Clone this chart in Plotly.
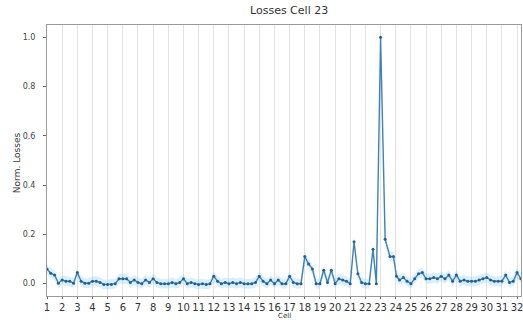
import plotly.graph_objects as go

# Normalised losses sampled along the cells (fractional cell positions)
cell_pos = [
    1.0, 1.25, 1.5, 1.75, 2.0, 2.25, 2.5, 2.75, 3.0, 3.25, 3.5, 3.75,
    4.0, 4.25, 4.5, 4.75, 5.0, 5.25, 5.5, 5.75, 6.0, 6.25, 6.5, 6.75,
    7.0, 7.25, 7.5, 7.75, 8.0, 8.25, 8.5, 8.75, 9.0, 9.25, 9.5, 9.75,
    10.0, 10.25, 10.5, 10.75, 11.0, 11.25, 11.5, 11.75, 12.0, 12.25, 12.5, 12.75,
    13.0, 13.25, 13.5, 13.75, 14.0, 14.25, 14.5, 14.75, 15.0, 15.25, 15.5, 15.75,
    16.0, 16.25, 16.5, 16.75, 17.0, 17.25, 17.5, 17.75, 18.0, 18.25, 18.5, 18.75,
    19.0, 19.25, 19.5, 19.75, 20.0, 20.25, 20.5, 20.75, 21.0, 21.25, 21.5, 21.75,
    22.0, 22.25, 22.5, 22.72, 23.0, 23.3, 23.62, 23.85, 24.05, 24.25, 24.5, 24.75,
    25.0, 25.25, 25.5, 25.75, 26.0, 26.25, 26.5, 26.75, 27.0, 27.25, 27.5, 27.75,
    28.0, 28.25, 28.5, 28.75, 29.0, 29.25, 29.5, 29.75, 30.0, 30.25, 30.5, 30.75,
    31.0, 31.25, 31.5, 31.75, 32.0, 32.25,
]
norm_losses = [
    0.060, 0.042, 0.035, 0.002, 0.015, 0.010, 0.010, 0.002, 0.045, 0.010, 0.002, 0.002,
    0.010, 0.010, 0.005, -0.003, -0.003, -0.003, 0.000, 0.020, 0.020, 0.020, 0.005, 0.015,
    0.005, 0.000, 0.015, 0.005, 0.020, 0.005, 0.000, 0.000, 0.000, 0.005, 0.000, 0.005,
    0.020, 0.000, 0.005, 0.000, -0.003, 0.000, -0.003, 0.000, 0.030, 0.010, 0.000, 0.005,
    0.000, 0.005, 0.000, 0.005, 0.000, 0.000, 0.000, 0.005, 0.030, 0.010, 0.000, 0.015,
    0.000, 0.015, 0.000, 0.000, 0.030, 0.005, 0.000, 0.000, 0.110, 0.080, 0.060, 0.000,
    0.000, 0.055, 0.005, 0.055, 0.000, 0.020, 0.015, 0.010, 0.000, 0.170, 0.040, 0.005,
    0.000, 0.000, 0.140, 0.000, 1.000, 0.180, 0.110, 0.110, 0.030, 0.015, 0.025, 0.010,
    0.000, 0.020, 0.040, 0.045, 0.020, 0.020, 0.025, 0.020, 0.030, 0.020, 0.035, 0.010,
    0.035, 0.010, 0.015, 0.010, 0.010, 0.010, 0.015, 0.020, 0.025, 0.015, 0.010, 0.010,
    0.010, 0.035, 0.005, 0.010, 0.045, 0.020,
]

x_ticks = list(range(1, 33))
band = 0.02

line_color = "#3f83b8"
font = "DejaVu Sans"

fig = go.Figure()

# shaded spread around the loss curve
fig.add_trace(go.Scatter(
    x=cell_pos, y=[v - band for v in norm_losses], mode="lines",
    line=dict(width=0), hoverinfo="skip", showlegend=False,
))
fig.add_trace(go.Scatter(
    x=cell_pos, y=[v + band for v in norm_losses], mode="lines",
    line=dict(width=0), fill="tonexty", fillcolor="rgba(150,210,250,0.35)",
    hoverinfo="skip", showlegend=False,
))
fig.add_trace(go.Scatter(
    x=cell_pos, y=norm_losses, mode="lines+markers",
    line=dict(color=line_color, width=1.4),
    marker=dict(color="#2a5f8a", size=3),
    showlegend=False,
))

plot_h = 320 - 25 - 24

fig.update_layout(
    width=523, height=320,
    margin=dict(l=47, r=0, t=25, b=24),
    paper_bgcolor="white", plot_bgcolor="white",
    font=dict(family=font, color="#333333"),
    xaxis=dict(
        range=[1, 32.26], tickmode="array", tickvals=x_ticks,
        ticktext=[str(t) for t in x_ticks], tickangle=0,
        showgrid=True, gridcolor="#e2e2e2", gridwidth=1,
        zeroline=False, showline=True, linecolor="#999999", mirror=True,
        ticks="outside", ticklen=2, tickcolor="#666666",
        tickfont=dict(size=10, color="#333333"),
        ticklabeloverflow="allow",
    ),
    yaxis=dict(
        range=[-0.05, 1.05], tickvals=[0.0, 0.2, 0.4, 0.6, 0.8, 1.0],
        ticktext=["0.0", "0.2", "0.4", "0.6", "0.8", "1.0"],
        showgrid=False, zeroline=False, showline=True, linecolor="#999999",
        mirror=True, ticks="outside", ticklen=3, tickcolor="#666666",
        tickfont=dict(size=8, color="#444444"), ticklabelstandoff=6,
    ),
)

# title and axis labels, positioned by paper fractions of the plot area
fig.add_annotation(text="Losses Cell 23", x=(290 - 47) / 476,
                   y=1 + (25 - 10) / plot_h, xref="paper", yref="paper",
                   showarrow=False, font=dict(size=11, color="#333333"),
                   yanchor="middle")
fig.add_annotation(text="Cell", x=(286 - 47) / 476, y=-(316 - 296) / plot_h,
                   xref="paper", yref="paper", showarrow=False,
                   font=dict(size=7, color="#333333"), yanchor="middle")
fig.add_annotation(text="Norm. Losses", x=-(47 - 17) / 476, y=(296 - 163) / plot_h,
                   xref="paper", yref="paper", showarrow=False, textangle=-90,
                   font=dict(size=9, color="#333333"), xanchor="center",
                   yanchor="middle")

fig.write_html("out.html")
